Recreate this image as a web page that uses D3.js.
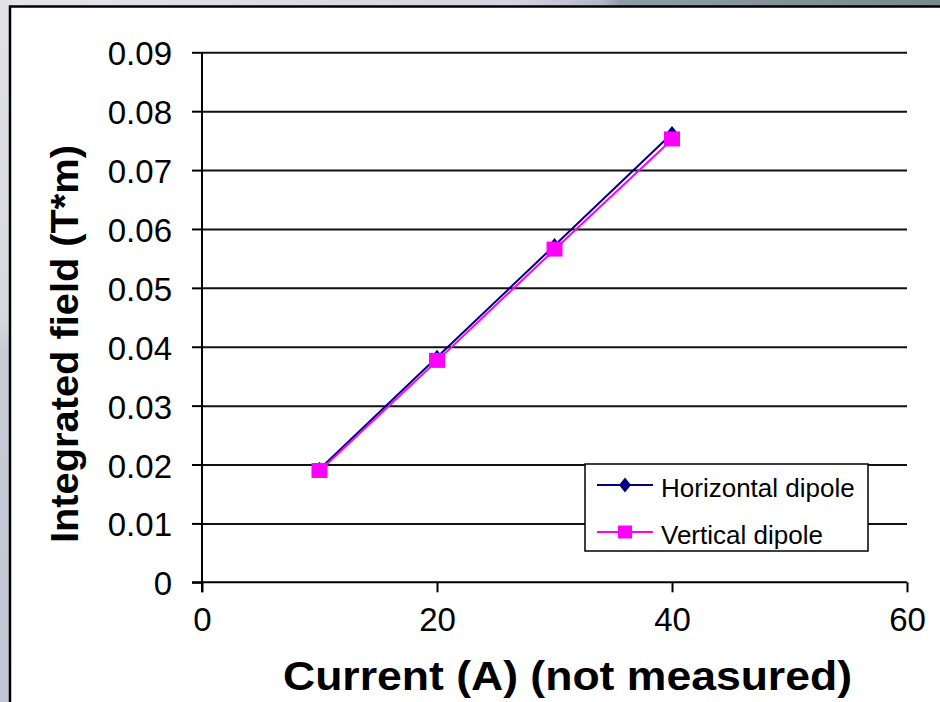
<!DOCTYPE html>
<html>
<head>
<meta charset="utf-8">
<script src="https://cdn.jsdelivr.net/npm/d3@7"></script>
<style>
  html, body { margin: 0; padding: 0; background: #fff; }
  svg { display: block; }
  text { font-family: "Liberation Sans", Arial, sans-serif; }
</style>
</head>
<body>
<svg id="chart" width="940" height="702"></svg>
<script>
// ---- data ----
const currents = [10, 20, 30, 40];
const horizontalDipole = [0.0192, 0.0382, 0.0572, 0.0762];
const verticalDipole = [0.0189, 0.0376, 0.0565, 0.0752];
const seriesNames = ["Horizontal dipole", "Vertical dipole"];
const xTicks = [0, 20, 40, 60];
const xTickLabels = ["0", "20", "40", "60"];
const yTicks = [0, 0.01, 0.02, 0.03, 0.04, 0.05, 0.06, 0.07, 0.08, 0.09];
const yTickLabels = ["0", "0.01", "0.02", "0.03", "0.04", "0.05", "0.06", "0.07", "0.08", "0.09"];
const xTitle = "Current (A) (not measured)";
const yTitle = "Integrated field (T*m)";

const svg = d3.select("#chart");

// ---- slide background ----
const defs = svg.append("defs");
const gTop = defs.append("linearGradient").attr("id", "gTop").attr("x1", 0).attr("x2", 1).attr("y1", 0).attr("y2", 0);
[["0", "#e4e4e8"], ["0.55", "#d4d4e0"], ["0.64", "#b4b6cc"], ["0.66", "#8e9ca6"], ["1", "#7a8a8a"]]
  .forEach(([o, c]) => gTop.append("stop").attr("offset", o).attr("stop-color", c));
const gLeft = defs.append("linearGradient").attr("id", "gLeft").attr("x1", 0).attr("x2", 0).attr("y1", 0).attr("y2", 1);
[["0", "#e2e2e4"], ["0.45", "#d8d9dd"], ["0.5", "#c8cbd6"], ["1", "#c2c6d2"]]
  .forEach(([o, c]) => gLeft.append("stop").attr("offset", o).attr("stop-color", c));
svg.append("rect").attr("x", 0).attr("y", 0).attr("width", 940).attr("height", 8).attr("fill", "url(#gTop)");
svg.append("rect").attr("x", 0).attr("y", 0).attr("width", 11).attr("height", 702).attr("fill", "url(#gLeft)");

// white chart panel with black frame (extends beyond right/bottom edges)
svg.append("rect").attr("x", 10).attr("y", 6.5).attr("width", 960).attr("height", 720)
  .attr("fill", "#fff").attr("stroke", "#000").attr("stroke-width", 2.5);

// ---- scales ----
const x = d3.scaleLinear().domain([0, 60]).range([202, 907]);
const y = d3.scaleLinear().domain([0, 0.09]).range([582.3, 52.3]);

// gridlines
const grid = svg.append("g").attr("transform", `translate(${x(0)},0)`)
  .call(d3.axisLeft(y).tickValues(yTicks.slice(1)).tickSize(-(x(60) - x(0))).tickFormat(""));
grid.select(".domain").remove();
grid.selectAll("line").attr("stroke", "#111").attr("stroke-width", 2);

// y axis
const yAxis = svg.append("g").attr("transform", `translate(${x(0)},0)`)
  .call(d3.axisLeft(y).tickValues(yTicks).tickSize(10).tickPadding(20)
    .tickFormat((d, i) => yTickLabels[i]));
yAxis.select(".domain").attr("stroke", "#000").attr("stroke-width", 2)
  .attr("d", `M0,${y(0.09)}V${y(0) + 10}`);
yAxis.selectAll(".tick line").attr("stroke", "#000").attr("stroke-width", 2);
yAxis.selectAll("text").attr("font-size", 33).attr("fill", "#000").attr("dy", "0.38em")
  .style("font-family", "'Liberation Sans', Arial, sans-serif");

// x axis
const xAxis = svg.append("g").attr("transform", `translate(0,${y(0)})`)
  .call(d3.axisBottom(x).tickValues(xTicks).tickSize(10).tickPadding(15)
    .tickFormat((d, i) => xTickLabels[i]));
xAxis.select(".domain").attr("stroke", "#000").attr("stroke-width", 2)
  .attr("d", `M${x(0) - 10},0H${x(60)}`);
xAxis.selectAll(".tick line").attr("stroke", "#000").attr("stroke-width", 2);
xAxis.selectAll("text").attr("font-size", 33).attr("fill", "#000")
  .style("font-family", "'Liberation Sans', Arial, sans-serif");

// ---- series ----
const series = [
  { name: seriesNames[0], values: horizontalDipole, color: "#000080", marker: "diamond" },
  { name: seriesNames[1], values: verticalDipole, color: "#ff00ff", marker: "square" }
];
const diamondPath = "M0,-7.5L6,0L0,7.5L-6,0Z";
function drawMarker(g, type, color, cx, cy, big) {
  if (type === "diamond") {
    g.append("path").attr("d", diamondPath).attr("transform", `translate(${cx},${cy})`).attr("fill", color);
  } else {
    const s = big ? 16 : 14;
    g.append("rect").attr("x", cx - s / 2).attr("y", cy - s / 2 + (big ? 0 : 0.5)).attr("width", s).attr("height", big ? 15 : 13).attr("fill", color);
  }
}
const line = d3.line().x((d, i) => x(currents[i])).y(d => y(d));
series.forEach(s => {
  const g = svg.append("g");
  g.append("path").attr("d", line(s.values)).attr("fill", "none")
    .attr("stroke", s.color).attr("stroke-width", 2);
  s.values.forEach((v, i) => drawMarker(g, s.marker, s.color, x(currents[i]), y(v), true));
});

// ---- legend ----
const lg = svg.append("g");
lg.append("rect").attr("x", 585).attr("y", 464).attr("width", 283).attr("height", 87)
  .attr("fill", "#fff").attr("stroke", "#000").attr("stroke-width", 1.5);
series.forEach((s, i) => {
  const cy = 485 + i * 47;
  lg.append("line").attr("x1", 597).attr("x2", 653).attr("y1", cy).attr("y2", cy)
    .attr("stroke", s.color).attr("stroke-width", 2);
  drawMarker(lg, s.marker, s.color, 625, cy, false);
  lg.append("text").attr("x", 661).attr("y", cy + 11.5).attr("font-size", 26).attr("fill", "#000")
    .text(s.name);
});

// ---- titles ----
svg.append("text").attr("x", 567.5).attr("y", 690).attr("text-anchor", "middle")
  .attr("font-size", 40).attr("font-weight", "bold").attr("fill", "#000")
  .attr("textLength", 569).attr("lengthAdjust", "spacingAndGlyphs")
  .text(xTitle);
svg.append("text").attr("transform", "translate(78,344) rotate(-90)").attr("text-anchor", "middle")
  .attr("font-size", 38).attr("font-weight", "bold").attr("fill", "#000")
  .attr("textLength", 398).attr("lengthAdjust", "spacingAndGlyphs")
  .text(yTitle);
</script>
</body>
</html>
